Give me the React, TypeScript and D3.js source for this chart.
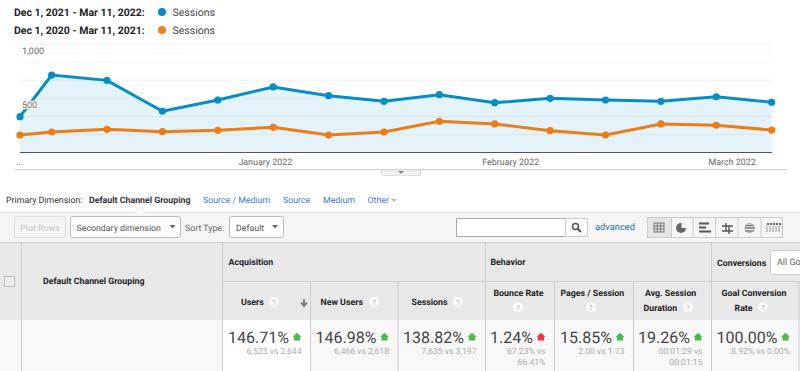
import React from "react";
import * as d3 from "d3";

const dates = ["2021-12-01","2021-12-05","2021-12-12","2021-12-19","2021-12-26","2022-01-02","2022-01-09","2022-01-16","2022-01-23","2022-01-30","2022-02-06","2022-02-13","2022-02-20","2022-02-27","2022-03-06"].map(d => new Date(d + "T00:00:00"));
const current = [330,714,665,380,484,604,524,472,533,459,499,484,472,514,463];
const previous = [161,189,214,192,205,232,161,189,288,263,201,161,263,251,207];
const monthTicks = [["2022-01-01","January 2022"],["2022-02-01","February 2022"],["2022-03-01","March 2022"]] as const;
const gridValues = [167,333,500,667,833,917,1000];
const otherTabs = ["Source / Medium","Source","Medium","Other"];
const groupNames = ["Acquisition","Behavior","Conversions"];
const colNames = [["Users"],["New Users"],["Sessions"],["Bounce Rate"],["Pages / Session"],["Avg. Session","Duration"],["Goal Conversion","Rate"]];
const pcts = ["146.71%","146.98%","138.82%","1.24%","15.85%","19.26%","100.00%"];
const ups = [true,true,true,false,true,true,true];
const subs = [["6,523 vs 2,644"],["6,466 vs 2,618"],["7,635 vs 3,197"],["67.23% vs","66.41%"],["2.00 vs 1.73"],["00:01:29 vs","00:01:15"],["8.92% vs 0.00%"]];

// layout
const tabX = [203,283,323,367.5];
const groupX = [228.5,490.5,717];
const colEdges = [222.5,310.5,398,485.5,554.5,633.5,711.5,799];
const nameX = [[241],[320.5],[411.5],[493.5],[560.5],[645,643.5],[721.5,734.5]];
const nameY = [[305],[305],[305],[296],[296],[296,311],[296,311]];
const qPos = [[274,302],[374,302],[458,302],[518,307],[591,307],[688,307],[763,307]];

const W = 800, H = 371;
const BLUE = "#058dc7", ORANGE = "#ed7e17";
const x = d3.scaleTime().domain([dates[0], dates[dates.length-1]]).range([20, 771.7]);
const y = d3.scaleLinear().domain([0,1000]).range([152.5,44]);
const line = d3.line<number>().x((_,i)=>x(dates[i])).y(d=>y(d));
const area = d3.area<number>().x((_,i)=>x(dates[i])).y0(y(0)).y1(d=>y(d));
const F = "Roboto, sans-serif";
const UI = 8.8;

const Q = ({cx,cy}:{cx:number;cy:number}) => (<g>
  <circle cx={cx} cy={cy} r={4.8} fill="#fff"/>
  <text x={cx} y={cy+2.5} fontSize={7} textAnchor="middle" fill="#bbb" fontWeight={700}>?</text>
</g>);
const Arrow = ({cx,cy,color}:{cx:number;cy:number;color:string}) => (
  <path d={`M${cx-4.5},${cy} L${cx},${cy-4.2} L${cx+4.5},${cy} L${cx+3},${cy} L${cx+3},${cy+3.6} L${cx-3},${cy+3.6} L${cx-3},${cy} Z`} fill={color}/>
);

export default function App() {
  return (
    <svg width={W} height={H} viewBox={`0 0 ${W} ${H}`} textRendering="geometricPrecision" style={{position:"absolute",left:0,top:0,fontFamily:F}}>
      <rect width={W} height={H} fill="#fff"/>
      <text x={14} y={16} fontSize={10.5} fontWeight={700} fill="#222">Dec 1, 2021 - Mar 11, 2022:</text>
      <text x={14} y={34} fontSize={10.5} fontWeight={700} fill="#222">Dec 1, 2020 - Mar 11, 2021:</text>
      <circle cx={162} cy={12} r={4} fill={BLUE}/>
      <circle cx={162} cy={30} r={4} fill={ORANGE}/>
      <text x={172.5} y={16} fontSize={10.5} fill="#444">Sessions</text>
      <text x={172.5} y={34} fontSize={10.5} fill="#444">Sessions</text>

      {gridValues.map(v => <line key={v} x1={20} x2={772} y1={y(v)} y2={y(v)} stroke={v===1000||v===667||v===333?"#eeeeee":"#f6f6f6"}/>)}
      <path d={area(current)!} fill={BLUE} fillOpacity={0.11}/>
      <line x1={20} x2={772} y1={152.5} y2={152.5} stroke="#555"/>
      <path d={line(current)!} fill="none" stroke={BLUE} strokeWidth={3}/>
      <path d={line(previous)!} fill="none" stroke={ORANGE} strokeWidth={3}/>
      {current.map((v,i)=><circle key={i} cx={x(dates[i])} cy={y(v)} r={3.6} fill={BLUE}/>)}
      {previous.map((v,i)=><circle key={i} cx={x(dates[i])} cy={y(v)} r={3.6} fill={ORANGE}/>)}
      <text x={22} y={53.5} fontSize={9} fill="#666" stroke="#fff" strokeWidth={2.5} paintOrder="stroke">1,000</text>
      <text x={22} y={107.7} fontSize={9} fill="#666" stroke="#fff" strokeWidth={2.5} paintOrder="stroke">500</text>
      <text x={16} y={165} fontSize={9} fill="#666">...</text>
      {monthTicks.map(([d,l])=><text key={l} x={x(new Date(d+"T00:00:00"))} y={164.5} fontSize={8.9} fill="#666" textAnchor="middle">{l}</text>)}
      <line x1={15} x2={787} y1={169.5} y2={169.5} stroke="#ccc"/>
      <path d="M381.5,170 H420.5 V174 Q420.5,175.5 419,175.5 H383 Q381.5,175.5 381.5,174 Z" fill="#f0f0f0" stroke="#ddd"/>
      <path d="M398,171 h6 l-3,3 z" fill="#888"/>

      <text x={6} y={203} fontSize={UI} fill="#333">Primary Dimension:</text>
      <text x={89} y={203} fontSize={UI} fontWeight={700} fill="#333">Default Channel Grouping</text>
      {otherTabs.map((l,i)=><text key={l} x={tabX[i]} y={203} fontSize={UI} fill="#3b78e7">{l}</text>)}
      <path d="M391,199 h6 l-3,3 z" fill="#bbb"/>

      <rect x={0} y={212} width={W} height={30} fill="#f5f5f5"/>
      <line x1={0} x2={134} y1={212.5} y2={212.5} stroke="#e4e4e4"/>
      <line x1={146} x2={W} y1={212.5} y2={212.5} stroke="#e4e4e4"/>
      <path d="M134,212.5 L140,207.5 L146,212.5" fill="#fff" stroke="#ddd"/>
      <rect x={14.5} y={216.5} width={51} height={21} rx={2} fill="#f5f5f5" stroke="#ddd"/>
      <text x={40} y={230.5} fontSize={UI} textAnchor="middle" fill="#c4c4c4">Plot Rows</text>
      <rect x={70.5} y={216.5} width={110} height={21} rx={2} fill="#fff" stroke="#bbb"/>
      <text x={76.5} y={230.5} fontSize={UI} fill="#555">Secondary dimension</text>
      <path d="M169.5,225 h6 l-3,3.5 z" fill="#666"/>
      <text x={185} y={230.5} fontSize={UI} fill="#666">Sort Type:</text>
      <rect x={229.5} y={216.5} width={54} height={21} rx={2} fill="#fff" stroke="#bbb"/>
      <text x={236} y={230.5} fontSize={UI} fill="#555">Default</text>
      <path d="M272,225 h6 l-3,3.5 z" fill="#666"/>

      <rect x={456.5} y={218.5} width={109} height={18} fill="#fff" stroke="#aaa"/>
      <rect x={565.5} y={218.5} width={22} height={18} fill="#fff" stroke="#ccc"/>
      <circle cx={575.5} cy={226.5} r={3} fill="none" stroke="#555" strokeWidth={1.6}/>
      <line x1={577.5} y1={228.5} x2={581} y2={232} stroke="#555" strokeWidth={2}/>
      <text x={595} y={230} fontSize={9.3} fill="#1f6fa8">advanced</text>
      <rect x={647.5} y={217.5} width={135} height={20} fill="#f5f5f5" stroke="#ccc"/>
      <rect x={648} y={218} width={23} height={19} fill="#e6e6e6"/>
      {[671,692.5,715,737.5,760.5].map(v=><line key={v} x1={v+.5} x2={v+.5} y1={218} y2={237} stroke="#ccc"/>)}
      <rect x={654} y={223} width={10} height={9} fill="none" stroke="#777"/>
      <path d="M657.3,223V232M660.6,223V232M654,226H664M654,229H664" stroke="#777" fill="none"/>
      <circle cx={681} cy={228} r={5} fill="#666"/>
      <path d="M681.5,228 V223 A5,5 0 0 1 686.5,228 Z" fill="#f5f5f5"/>
      <path d="M699,223.5H709M699,227.5H706M699,231.5H711" stroke="#555" strokeWidth={2}/>
      <path d="M722,226H733M726,223V231M722,231H733M729,226V234" stroke="#555" strokeWidth={1.4} fill="none"/>
      <path d="M745,225.5H754M745,228H755M745,231H754" stroke="#777" strokeWidth={1.5}/>
      <circle cx={749.5} cy={228} r={4.5} fill="none" stroke="#aaa"/>
      <path d="M767,224H781" stroke="#666" strokeWidth={2} strokeDasharray="2 1"/>
      <path d="M767,226V232M770,226V232M773,226V232M776,226V232M779,226V232" stroke="#999" fill="none"/>

      <rect x={0} y={243} width={W} height={77} fill="#e8e8e8"/>
      <line x1={0} x2={W} y1={242.5} y2={242.5} stroke="#d0d0d0"/>
      <rect x={0} y={320} width={W} height={51} fill="#f8f8f8"/>
      <rect x={222} y={320} width={88} height={51} fill="#fff"/>
      <line x1={222} x2={W} y1={281.5} y2={281.5} stroke="#ccc"/>
      <rect x={4.5} y={276.5} width={10} height={10} fill="#eee" stroke="#bbb"/>
      <text x={43} y={284} fontSize={UI} fontWeight={700} fill="#222">Default Channel Grouping</text>
      {[21.5,222.5,485.5,711.5].map(v=><line key={v} x1={v} x2={v} y1={243} y2={371} stroke="#ccc"/>)}
      {[310.5,398,554.5,633.5,799].map(v=><line key={v} x1={v} x2={v} y1={282} y2={371} stroke="#ccc"/>)}
      {groupNames.map((l,i)=><text key={l} x={groupX[i]} y={i===2?266:265} fontSize={UI} fontWeight={700} fill="#222">{l}</text>)}
      <rect x={770.5} y={250.5} width={40} height={24} rx={2} fill="#fff" stroke="#ccc"/>
      <text x={777} y={265} fontSize={9} fill="#666">All Go</text>

      {colNames.map((names,c)=>{
        const x1 = colEdges[c+1];
        return <g key={c}>
          {names.map((n,i)=><text key={n} x={nameX[c][i]} y={nameY[c][i]} fontSize={UI} fontWeight={700} fill="#222">{n}</text>)}
          <Q cx={qPos[c][0]} cy={qPos[c][1]}/>
          <text x={x1-21.5} y={342.5} fontSize={16} fill="#444" textAnchor="end">{pcts[c]}</text>
          <Arrow cx={x1-13.5} cy={337} color={ups[c]?"#4fb84a":"#f2313a"}/>
          {subs[c].map((s,i)=><text key={s} x={x1-9} y={354+i*11} fontSize={8.6} fill="#aaa" textAnchor="end">{s}</text>)}
        </g>;
      })}
      <path d="M304,299V305M301,302.5L304,306L307,302.5" stroke="#777" strokeWidth={1.8} fill="none"/>
    </svg>
  );
}
